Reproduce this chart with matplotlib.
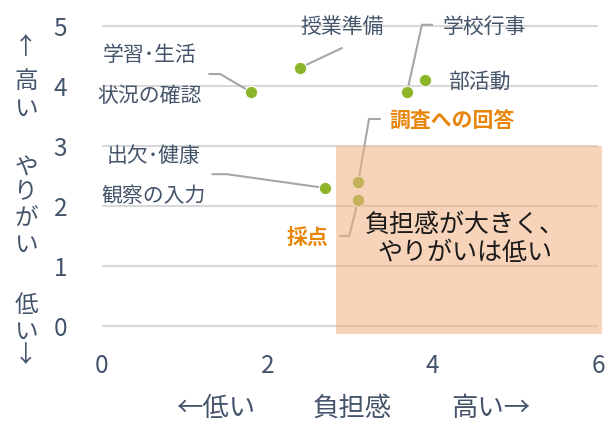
import matplotlib
matplotlib.use('Agg')
import matplotlib.pyplot as plt
from matplotlib.patches import Rectangle

plt.rcParams['font.family'] = ['Noto Sans CJK JP', 'DejaVu Sans']

# データ（負担感, やりがい）
tasks = ['学習･生活\n状況の確認', '授業準備', '学校行事', '部活動',
         '出欠･健康\n観察の入力', '調査への回答', '採点']
burden = [1.80, 2.39, 3.69, 3.91, 2.70, 3.10, 3.10]
reward = [3.90, 4.30, 3.90, 4.10, 2.30, 2.40, 2.10]
highlight = [False, False, False, False, False, True, True]

x_ticks = [0, 2, 4, 6]
y_ticks = [0, 1, 2, 3, 4, 5]

# ラベル位置と引き出し線（レイアウト）
label_pos = [(0.58, 4.17), (2.90, 4.98), (4.63, 4.98), (4.56, 4.07),
             (0.62, 2.50), (4.23, 3.42), (2.49, 1.47)]
leader = [[(1.30, 4.20), (1.43, 4.20)],
          [(2.90, 4.63)],
          [(3.99, 5.02), (3.87, 5.02)],
          None,
          [(1.34, 2.53), (1.51, 2.53)],
          [(3.36, 3.45), (3.23, 3.45)],
          [(2.88, 1.50), (2.99, 1.50)]]

text_col = '#44546A'
orange = '#E8860C'
green = '#8DB52A'

fig = plt.figure(figsize=(6.06, 4.21), dpi=100)
ax = fig.add_axes([0.1683, 0.2043, 0.8185, 0.7411])

ax.set_xlim(0, 6)
ax.set_ylim(-0.15, 5.05)
ax.set_xticks(x_ticks)
ax.set_yticks(y_ticks)
ax.tick_params(length=0, labelsize=17.5, labelcolor=text_col)
ax.tick_params(axis='y', pad=25)
ax.tick_params(axis='x', pad=13)
for s in ax.spines.values():
    s.set_visible(False)
ax.yaxis.grid(True, color='#D9D9D9', lw=1.5)
ax.set_axisbelow(True)

# 引き出し線
for i in range(len(tasks)):
    if leader[i] is None:
        continue
    xs = [p[0] for p in leader[i]] + [burden[i]]
    ys = [p[1] for p in leader[i]] + [reward[i]]
    ax.plot(xs, ys, color='#A6A6A6', lw=1.5, zorder=2)

ax.scatter(burden, reward, s=80, color=green, edgecolor='white', lw=0.8, zorder=3)

for i, t in enumerate(tasks):
    ax.text(label_pos[i][0], label_pos[i][1], t, ha='center', va='center',
            fontsize=15, color=orange if highlight[i] else text_col,
            fontweight='bold' if highlight[i] else 'normal',
            linespacing=2.1, zorder=5)

# 負担感が大きく、やりがいは低い領域
rect_x0, rect_x1, rect_y0, rect_y1 = 2.83, 6.05, -0.13, 3.0
ax.add_patch(Rectangle((rect_x0, rect_y0), rect_x1 - rect_x0, rect_y1 - rect_y0,
                       facecolor='#F0B080', alpha=0.55, edgecolor='none',
                       zorder=4, clip_on=False))
ax.text(4.39, 1.45, '負担感が大きく、\nやりがいは低い', ha='center', va='center',
        fontsize=18, color='#1A1A1A', linespacing=1.1, zorder=6)

# 軸タイトル
fig.text(216 / 606, 1 - 408 / 421, '←低い', ha='center', va='center', fontsize=19, color=text_col)
fig.text(352 / 606, 1 - 408 / 421, '負担感', ha='center', va='center', fontsize=19, color=text_col)
fig.text(491 / 606, 1 - 408 / 421, '高い→', ha='center', va='center', fontsize=19, color=text_col)

ylab_chars = ['↑', '高', 'い', 'や', 'り', 'が', 'い', '低', 'い', '↓']
ylab_y = [47, 82, 109, 168, 193, 219, 245, 306, 332, 356]
for c, yy in zip(ylab_chars, ylab_y):
    fig.text(26 / 606, 1 - yy / 421, c, ha='center', va='center', fontsize=17, color=text_col)

fig.savefig('out.png', dpi=100)
